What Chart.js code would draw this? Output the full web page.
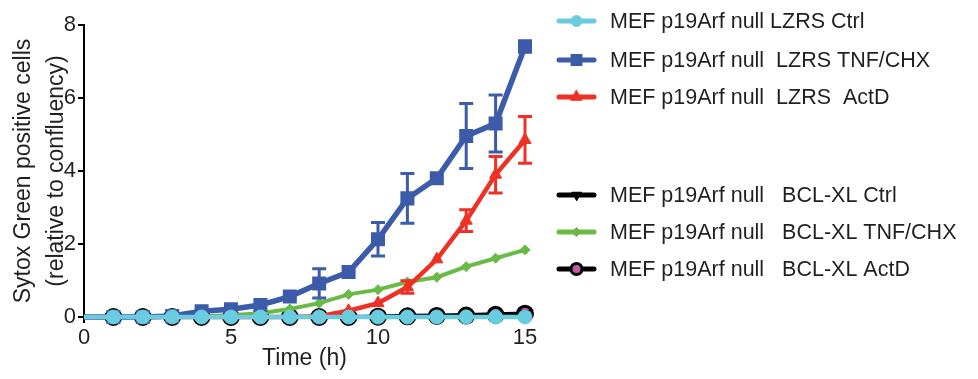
<!DOCTYPE html>
<html>
<head>
<meta charset="utf-8">
<script src="https://cdn.jsdelivr.net/npm/chart.js@4"></script>
<style>
  html, body { margin: 0; padding: 0; background: #fff; }
  #wrap { width: 978px; height: 379px; position: relative; }
</style>
</head>
<body>
<div id="wrap"><canvas id="myChart"></canvas></div>
<script>
// time points (h)
const hours = [0, 1, 2, 3, 4, 5, 6, 7, 8, 9, 10, 11, 12, 13, 14, 15];

// LZRS series
const lzrsCtrl = [0, 0, 0, 0, 0, 0, 0, 0, 0, 0, 0, 0, 0, 0, 0, 0];
const lzrsTnf = [0, 0, 0, 0.03, 0.16, 0.21, 0.33, 0.56, 0.92, 1.23, 2.13, 3.25, 3.8, 4.96, 5.3, 7.41];
const lzrsTnfErr = [null, null, null, null, null, null, null, null, 0.4, null, 0.46, 0.68, null, 0.89, 0.78, 0.15];
const lzrsActd = [0, 0, 0, 0, 0, 0, 0, 0, 0.02, 0.17, 0.38, 0.82, 1.58, 2.64, 3.9, 4.85];
const lzrsActdErr = [null, null, null, null, null, null, null, null, null, null, null, 0.17, null, 0.3, 0.5, 0.64];

// BCL-XL series
const bclCtrl = [0, 0, 0, 0, 0, 0, 0, 0, 0, 0.01, 0.02, 0.04, 0.05, 0.06, 0.08, 0.1];
const bclTnf = [0, 0, 0, 0.01, 0.02, 0.05, 0.1, 0.22, 0.38, 0.62, 0.75, 0.96, 1.09, 1.38, 1.61, 1.84];
const bclActd = [0, 0, 0, 0, 0, 0, 0, 0, 0, 0, 0.01, 0.02, 0.03, 0.04, 0.06, 0.09];

const legendLabels = [
  'MEF p19Arf null LZRS Ctrl',
  'MEF p19Arf null  LZRS TNF/CHX',
  'MEF p19Arf null  LZRS  ActD',
  'MEF p19Arf null   BCL-XL Ctrl',
  'MEF p19Arf null   BCL-XL TNF/CHX',
  'MEF p19Arf null   BCL-XL ActD'
];

const xTicks = [0, 5, 10, 15];
const yTicks = [0, 2, 4, 6, 8];

const FONT = "'Liberation Sans', Arial, Helvetica, sans-serif";
const INK = '#231f20';
const CYAN = '#6accdf', BLUE = '#3c5ba9', RED = '#ee3124', GREEN = '#6aba46', MAGENTA = '#c25aa8';

function pts(arr) {
  return hours.map((h, i) => ({ x: h, y: arr[i] }));
}
function hideFirst(r) {
  return ctx => ctx.dataIndex === 0 ? 0 : r;
}

const errorBars = {
  id: 'errorBars',
  afterDatasetsDraw(chart) {
    const ctx = chart.ctx;
    const xs = chart.scales.x, ys = chart.scales.y;
    chart.data.datasets.forEach(ds => {
      if (!ds.errors) return;
      ctx.save();
      ctx.strokeStyle = ds.borderColor;
      ctx.lineWidth = 3;
      ds.errors.forEach((e, j) => {
        if (!e) return;
        const px = xs.getPixelForValue(hours[j]);
        const top = ys.getPixelForValue(ds.data[j].y + e);
        const bot = ys.getPixelForValue(ds.data[j].y - e);
        ctx.beginPath();
        ctx.moveTo(px, top); ctx.lineTo(px, bot);
        ctx.moveTo(px - 7, top); ctx.lineTo(px + 7, top);
        ctx.moveTo(px - 7, bot); ctx.lineTo(px + 7, bot);
        ctx.stroke();
      });
      ctx.restore();
    });
  }
};

const sideLegend = {
  id: 'sideLegend',
  afterDraw(chart) {
    const ctx = chart.ctx;
    const rows = [21, 60, 97, 195, 232, 269];
    chart.data.datasets.forEach((ds, i) => {
      const yy = rows[i];
      ctx.save();
      ctx.strokeStyle = ds.legendLine || ds.borderColor;
      ctx.lineWidth = 5;
      ctx.lineCap = 'round';
      ctx.beginPath();
      ctx.moveTo(559, yy); ctx.lineTo(594, yy);
      ctx.stroke();
      ctx.fillStyle = ds.pointBackgroundColor;
      ctx.strokeStyle = ds.pointBorderColor;
      ctx.lineWidth = ds.pointBorderWidth;
      Chart.helpers.drawPoint(ctx, {
        pointStyle: ds.pointStyle,
        rotation: ds.pointRotation || 0,
        radius: ds.legendRadius,
        borderWidth: ds.pointBorderWidth
      }, 576.5, yy);
      ctx.fillStyle = INK;
      ctx.font = '21.5px ' + FONT;
      ctx.textBaseline = 'middle';
      ctx.textAlign = 'left';
      ctx.fillText(legendLabels[i], 610, yy + 1);
      ctx.restore();
    });
  }
};

const ctx = document.getElementById('myChart');

new Chart(ctx, {
  type: 'line',
  data: {
    datasets: [
      {
        label: legendLabels[0], data: pts(lzrsCtrl),
        borderColor: CYAN, borderWidth: 4.5,
        pointStyle: 'circle', pointRadius: hideFirst(7), legendRadius: 5.5,
        pointBackgroundColor: CYAN, pointBorderColor: CYAN, pointBorderWidth: 1
      },
      {
        label: legendLabels[1], data: pts(lzrsTnf), errors: lzrsTnfErr,
        borderColor: BLUE, borderWidth: 5.5,
        pointStyle: 'rect', pointRadius: hideFirst(8.5), legendRadius: 7,
        pointBackgroundColor: BLUE, pointBorderColor: BLUE, pointBorderWidth: 2
      },
      {
        label: legendLabels[2], data: pts(lzrsActd), errors: lzrsActdErr,
        borderColor: RED, borderWidth: 4.5,
        pointStyle: 'triangle', pointRadius: hideFirst(7), legendRadius: 6.5,
        pointBackgroundColor: RED, pointBorderColor: RED, pointBorderWidth: 1
      },
      {
        label: legendLabels[3], data: pts(bclCtrl),
        borderColor: '#000', borderWidth: 3.5,
        pointStyle: 'triangle', pointRotation: 180, pointRadius: hideFirst(6), legendRadius: 5.5,
        pointBackgroundColor: '#000', pointBorderColor: '#000', pointBorderWidth: 1
      },
      {
        label: legendLabels[4], data: pts(bclTnf),
        borderColor: GREEN, borderWidth: 4,
        pointStyle: 'rectRot', pointRadius: hideFirst(5), legendRadius: 4.5,
        pointBackgroundColor: GREEN, pointBorderColor: GREEN, pointBorderWidth: 1
      },
      {
        label: legendLabels[5], data: pts(bclActd),
        borderColor: '#000', borderWidth: 3.5,
        pointStyle: 'circle', pointRadius: hideFirst(7.5), legendRadius: 5.5,
        pointBackgroundColor: MAGENTA, pointBorderColor: '#000', pointBorderWidth: 3
      }
    ]
  },
  options: {
    responsive: true,
    maintainAspectRatio: false,
    animation: false,
    clip: false,
    layout: { padding: { left: 0, right: 453, top: 25, bottom: 7 } },
    elements: { line: { tension: 0 } },
    plugins: { legend: { display: false }, tooltip: { enabled: false } },
    scales: {
      x: {
        type: 'linear', min: 0, max: 15,
        afterBuildTicks: s => { s.ticks = xTicks.map(v => ({ value: v })); },
        afterFit: s => { s.height = 55; },
        border: { color: '#000', width: 2 },
        grid: { drawOnChartArea: false, drawTicks: true, tickLength: 6, color: '#000', lineWidth: 2 },
        ticks: { color: INK, font: { family: FONT, size: 22 }, padding: 2, maxRotation: 0 },
        title: { display: true, text: 'Time (h)', color: INK, padding: 0, font: { family: FONT, size: 23 } }
      },
      y: {
        min: 0, max: 8,
        afterBuildTicks: s => { s.ticks = yTicks.map(v => ({ value: v })); },
        afterFit: s => { s.width = 84; },
        border: { color: '#000', width: 2 },
        grid: { drawOnChartArea: false, drawTicks: true, tickLength: 6, color: '#000', lineWidth: 2 },
        ticks: { color: INK, font: { family: FONT, size: 22 }, padding: 2 },
        title: {
          display: true, text: ['Sytox Green positive cells', '(relative to confluency)'],
          color: INK, padding: { top: 8, bottom: 0 },
          font: { family: FONT, size: 23, lineHeight: 1.4 }
        }
      }
    }
  },
  plugins: [errorBars, sideLegend]
});
</script>
</body>
</html>
